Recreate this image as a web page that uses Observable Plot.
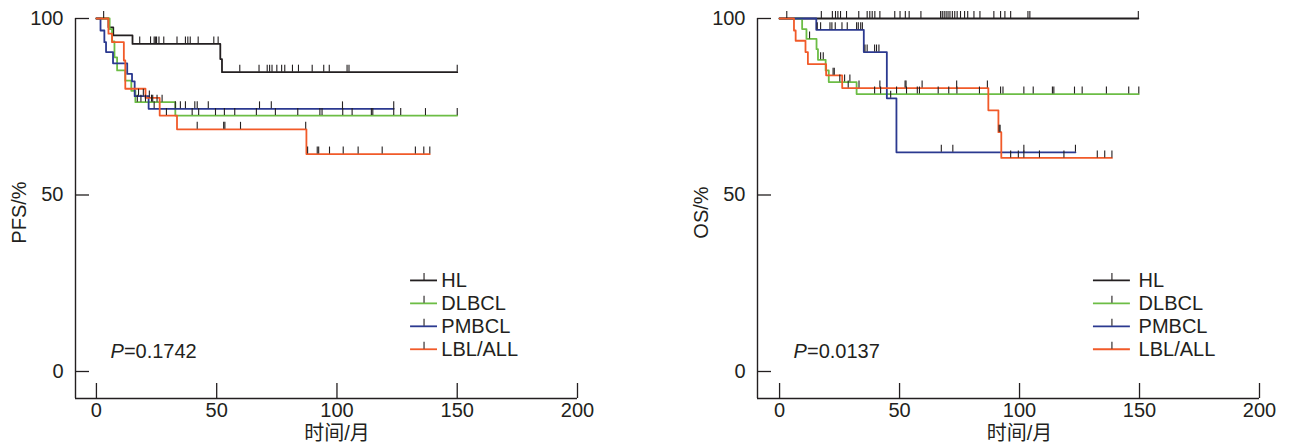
<!DOCTYPE html>
<html><head><meta charset="utf-8">
<script src="https://cdn.jsdelivr.net/npm/d3@7"></script>
<script src="https://cdn.jsdelivr.net/npm/@observablehq/plot@0.6"></script>
<style>
body{margin:0;background:#fff}
#wrap{display:flex;width:1290px;height:446px;overflow:hidden}
#wrap svg{overflow:visible}
</style>
</head><body><div id="wrap"></div>
<script>
// ---------- data ----------
const groups = ["HL", "DLBCL", "PMBCL", "LBL/ALL"];
const colors = ["#231f20", "#6cbd45", "#2b3990", "#f15a29"];
const xTicks = [0, 50, 100, 150, 200];
const yTicks = [0, 50, 100];

// PFS panel (step times, survival after step, last follow-up, censor times)
const pfsHL_t = [0, 5, 7, 15, 51.5, 52.2];
const pfsHL_s = [100, 97.5, 95.2, 92.8, 88.5, 84.8];
const pfsHL_end = 150;
const pfsHL_c = [3, 18, 22.5, 24, 24.5, 25, 26, 28, 33.5, 37, 38, 39, 42.3, 48.8, 50.6, 59.6, 67.6, 71, 72, 73, 75, 77, 78.3, 81.5, 84, 89.7, 94.5, 96.8, 104.2, 105, 150];

const pfsDL_t = [0, 5.5, 6.5, 7.5, 8.6, 12, 14.5, 16.2, 32.8];
const pfsDL_s = [100, 97, 93.5, 89, 85.3, 82.4, 79.5, 76.3, 72.5];
const pfsDL_end = 150;
const pfsDL_c = [17, 18.5, 20.4, 22.9, 23.4, 25.2, 27.3, 39.8, 42.5, 49.5, 53.2, 57.5, 66.5, 74.4, 83.7, 92.9, 93.8, 102.4, 106.3, 114.3, 114.9, 123.6, 126.5, 136.8, 150];

const pfsPM_t = [0, 1.7, 3.3, 4, 6.9, 12.8, 14.8, 15.9, 21.7];
const pfsPM_s = [100, 96.6, 93.3, 90.5, 87.3, 84.3, 82.2, 78, 74.4];
const pfsPM_end = 123.6;
const pfsPM_c = [17.5, 19.5, 24, 32.8, 34.9, 37, 40.9, 41.9, 46.5, 67.8, 72.7, 102.3, 123.6];

const pfsLB_t = [0, 5, 6.5, 11.4, 12, 20.4, 26.3, 33.5, 87.3];
const pfsLB_s = [100, 95.7, 93.3, 88.1, 80.1, 77.5, 72.5, 68.6, 61.6];
const pfsLB_end = 138.6;
const pfsLB_c = [22, 29.1, 41.9, 52.9, 53.4, 59.9, 87, 87.8, 91.8, 92.4, 96.9, 102.6, 108.8, 118.8, 132.6, 136.1, 138.6];

// OS panel
const osHL_t = [0];
const osHL_s = [100];
const osHL_end = 149.5;
const osHL_c = [3, 17.4, 22, 23.3, 24.3, 25.4, 27.9, 33, 36.5, 37.6, 38.6, 39.7, 41.8, 48, 50.2, 52.4, 54, 58.9, 67.1, 67.8, 68.6, 69.4, 70.2, 71, 72, 73, 74, 75.4, 77.1, 78.4, 81, 83.5, 89.3, 92.1, 93.9, 96.3, 103.5, 104.3, 149.5];

const osDL_t = [0, 9.4, 11.2, 15.4, 16, 19.2, 20.5, 32.1];
const osDL_s = [100, 97, 94.2, 91.3, 88.3, 85.3, 82, 78.6];
const osDL_end = 149.7;
const osDL_c = [12.5, 17.1, 18.2, 25.1, 27.1, 29.3, 39.6, 42.1, 48.75, 52.9, 57.4, 58.3, 66.1, 70.5, 73.9, 83.3, 92.1, 93.1, 101.8, 105.7, 113.7, 114.3, 122.9, 126.1, 136.2, 145.5, 149.7];

const osPM_t = [0, 15.3, 35.1, 44.7, 48.7];
const osPM_s = [100, 96.8, 90.5, 77.4, 62.1];
const osPM_end = 123.3;
const osPM_c = [15.7, 17.1, 21, 21.8, 23.2, 26, 28.2, 32.1, 32.8, 33.8, 34.5, 35.6, 36.5, 39.6, 40.4, 41.4, 46.3, 67.4, 72.2, 101.8, 123.3];

const osLB_t = [0, 6, 6.7, 10.8, 11.8, 19.4, 26.1, 87, 91.2, 92.4];
const osLB_s = [100, 96.6, 93.7, 90.5, 87.1, 83.9, 80.3, 74, 67.8, 60.5];
const osLB_end = 138.5;
const osLB_c = [22.3, 22.8, 28.6, 33.1, 41.8, 52.3, 52.7, 59.4, 73.8, 86.6, 91.5, 91.9, 96.3, 99.5, 101.8, 108.3, 118.5, 132.4, 135.5, 138.5];

const pfsCurves = [
  [pfsHL_t, pfsHL_s, pfsHL_end, pfsHL_c],
  [pfsDL_t, pfsDL_s, pfsDL_end, pfsDL_c],
  [pfsPM_t, pfsPM_s, pfsPM_end, pfsPM_c],
  [pfsLB_t, pfsLB_s, pfsLB_end, pfsLB_c]
];
const osCurves = [
  [osHL_t, osHL_s, osHL_end, osHL_c],
  [osDL_t, osDL_s, osDL_end, osDL_c],
  [osPM_t, osPM_s, osPM_end, osPM_c],
  [osLB_t, osLB_s, osLB_end, osLB_c]
];

// ---------- drawing ----------
const INK = "#231f20";
const FONT = "'Liberation Sans', Arial, 'Noto Sans CJK SC', sans-serif";
const H = 446, W = 645, MT = 18, MB = 48;
const yMin = -7.65, yMax = 100;

function survAt(times, surv, t) {
  let s = surv[0];
  for (let i = 0; i < times.length; i++) if (times[i] <= t) s = surv[i];
  return s;
}

function panel({curves, yLabel, pValue, xMin, ml, mr, leg}) {
  const lines = [], cens = [];
  curves.forEach(([t, s, end, c], gi) => {
    const g = groups[gi];
    t.forEach((ti, i) => lines.push({g, t: ti, s: s[i]}));
    lines.push({g, t: end, s: s[s.length - 1]});
    c.forEach(ci => cens.push({g, t: ci, s: survAt(t, s, ci)}));
  });
  const kx = (W - ml - mr) / (200 - xMin);
  const ky = (H - MT - MB) / (yMax - yMin);
  const censLen = 7 / ky;
  const rowY = (d, i) => leg.y0 - i * leg.step;
  return Plot.plot({
    width: W, height: H,
    marginLeft: ml, marginRight: mr, marginTop: MT, marginBottom: MB,
    x: {domain: [xMin, 200]},
    y: {domain: [yMin, yMax]},
    color: {domain: groups, range: colors},
    style: {fontFamily: FONT, fontSize: "20px", color: INK, background: "white", overflow: "visible"},
    marks: [
      // frame lines
      Plot.ruleX([xMin], {y1: yMin, y2: yMax, stroke: INK, strokeWidth: 1.4}),
      Plot.ruleY([yMin], {x1: xMin, x2: 200, stroke: INK, strokeWidth: 1.4}),
      // inward ticks
      Plot.ruleX(xTicks, {x: d => d, y1: yMin, y2: yMin + 15 / ky, stroke: INK, strokeWidth: 1.3}),
      Plot.ruleY(yTicks, {y: d => d, x1: xMin, x2: xMin + 14 / kx, stroke: INK, strokeWidth: 1.3}),
      Plot.axisX(xTicks, {tickSize: 0, tickPadding: 4, fontSize: 20, label: null, fill: INK}),
      Plot.axisY(yTicks, {tickSize: 0, tickPadding: 12, fontSize: 20, label: null, fill: INK}),
      Plot.text([{x: 100, label: "时间/月"}], {x: "x", text: "label", frameAnchor: "bottom", dy: 41, fontSize: 20, fill: INK}),
      Plot.text([yLabel], {frameAnchor: "left", textAnchor: "middle", dx: -56, dy: 4, rotate: -90, fontSize: 20, fill: INK}),
      // curves
      Plot.line(lines, {x: "t", y: "s", z: "g", stroke: "g", curve: "step-after", strokeWidth: 1.8}),
      Plot.ruleX(cens, {x: "t", y1: "s", y2: d => d.s + censLen, stroke: INK, strokeWidth: 1.1}),
      // P value
      Plot.text(["P"], {x: () => 5.8, y: () => 5.7, textAnchor: "start", fontStyle: "italic", fontSize: 20, fill: INK}),
      Plot.text([pValue], {x: () => 5.8, y: () => 5.7, dx: 13.5, textAnchor: "start", fontSize: 20, fill: INK}),
      // legend
      Plot.ruleY(groups, {y: rowY, x1: leg.x1, x2: leg.x2, stroke: d => d, strokeWidth: 1.8}),
      Plot.ruleX(groups, {x: (leg.x1 + leg.x2) / 2, y1: rowY, y2: (d, i) => rowY(d, i) + censLen, stroke: INK, strokeWidth: 1.1}),
      Plot.text(groups, {x: leg.tx, y: rowY, text: d => d, textAnchor: "start", fontSize: 20, fill: INK})
    ]
  });
}

const wrap = document.getElementById("wrap");
wrap.append(panel({
  curves: pfsCurves, yLabel: "PFS/%", pValue: "=0.1742", xMin: -8.7, ml: 75, mr: 68,
  leg: {y0: 25.8, step: 6.5, x1: 130.6, x2: 141.8, tx: 143.4}
}));
wrap.append(panel({
  curves: osCurves, yLabel: "OS/%", pValue: "=0.0137", xMin: -9.2, ml: 112, mr: 31,
  leg: {y0: 25.8, step: 6.5, x1: 130.8, x2: 146.2, tx: 149.6}
}));
</script>
</body></html>
